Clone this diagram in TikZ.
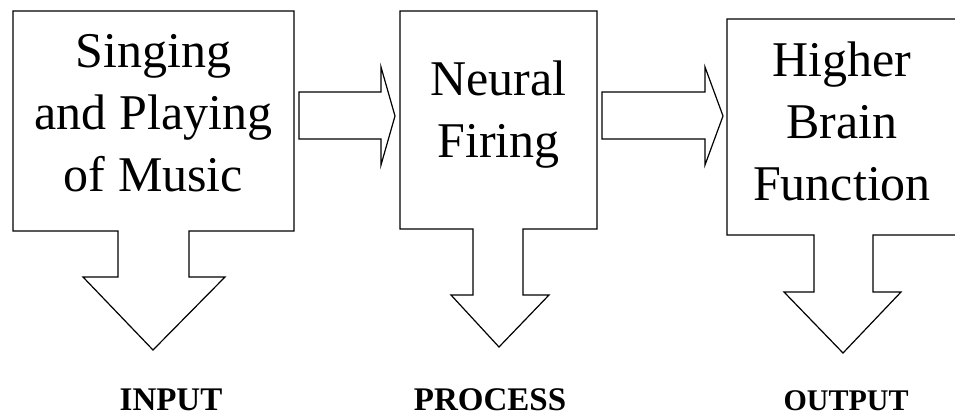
\documentclass[tikz,border=0pt]{standalone}
\usepackage{fontspec}
\setmainfont{Liberation Serif}
\begin{document}
\begin{tikzpicture}[x=1pt,y=-1pt]
\tikzstyle{outline}=[draw=black, line width=1.2pt, line join=miter]
\tikzstyle{boxtext}=[align=center, inner sep=0pt, font=\fontsize{50}{62}\selectfont]
\tikzstyle{stage}=[anchor=base, inner sep=0pt, font=\bfseries\fontsize{33}{40}\selectfont]

\useasboundingbox (0,0) rectangle (955,417);

% Input box with its down arrow
\draw[outline] (118,231) -- (13,231) -- (13,11) -- (294,11) -- (294,231) -- (189,231)
  -- (189,277) -- (225,277) -- (153,350) -- (83,277) -- (118,277) -- cycle;
\node[boxtext] (music) at (153.5,113) {Singing\\and Playing\\of Music};

% Process box with its down arrow
\draw[outline] (473,229) -- (400,229) -- (400,11) -- (597,11) -- (597,229) -- (523,229)
  -- (523,295) -- (549,295) -- (499,347) -- (451,295) -- (473,295) -- cycle;
\node[boxtext] (firing) at (498.5,114.5) {Neural\\Firing};

% Output box with its down arrow
\draw[outline] (814,235) -- (727,235) -- (727,19) -- (965,19) -- (965,235) -- (873,235)
  -- (873,292) -- (901,292) -- (843,353) -- (784,292) -- (814,292) -- cycle;
\node[boxtext] (brain) at (842,121) {Higher\\Brain\\Function};

% Arrows between boxes
\draw[outline] (299,92) -- (381,92) -- (381,67) -- (395,116) -- (381,165) -- (381,139) -- (299,139) -- cycle;
\draw[outline] (602,92) -- (705,92) -- (705,67) -- (723,116) -- (705,165) -- (705,139) -- (602,139) -- cycle;

% Stage labels
\node[stage] (input) at (171,410) {INPUT};
\node[stage] (process) at (490,410) {PROCESS};
\node[stage, font=\bfseries\fontsize{30}{36}\selectfont] (output) at (846,410) {OUTPUT};
\end{tikzpicture}
\end{document}
